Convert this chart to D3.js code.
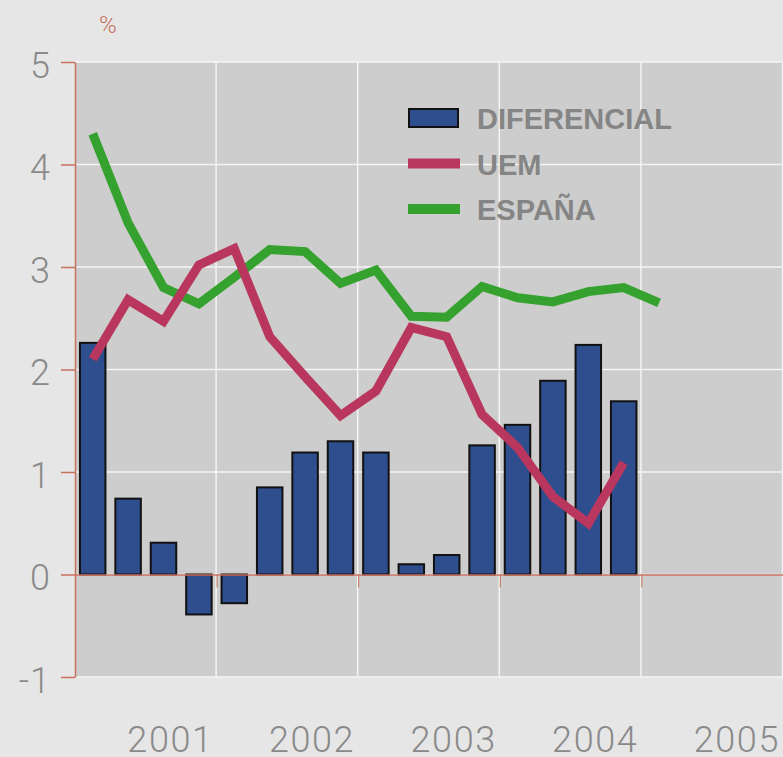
<!DOCTYPE html>
<html>
<head>
<meta charset="utf-8">
<script src="https://cdn.jsdelivr.net/npm/d3@7"></script>
<style>
  body { margin: 0; background: #e6e6e6; }
  svg { display: block; }
</style>
</head>
<body>
<svg id="chart"></svg>
<script>
// quarters from 2001 T1 to 2005 T4 (x axis domain)
const quarters = [];
[2001, 2002, 2003, 2004, 2005].forEach((y) => {
  ["I", "II", "III", "IV"].forEach((q) => quarters.push(`${y} ${q}`));
});

const years = [2001, 2002, 2003, 2004, 2005];
const yTicks = [-1, 0, 1, 2, 3, 4, 5];

// diferencial (bars)
const diferencial = [2.26, 0.74, 0.31, -0.39, -0.28, 0.85, 1.19, 1.30,
                     1.19, 0.10, 0.19, 1.26, 1.46, 1.89, 2.24, 1.69];
// UEM
const uem = [2.10, 2.68, 2.47, 3.02, 3.18, 2.32, 1.93, 1.55,
             1.79, 2.41, 2.32, 1.56, 1.24, 0.76, 0.50, 1.09];
// ESPAÑA
const espana = [4.30, 3.43, 2.80, 2.64, 2.90, 3.17, 3.15, 2.84,
                2.97, 2.52, 2.51, 2.81, 2.70, 2.66, 2.76, 2.80, 2.65];

const width = 783, height = 757;
const plotLeft = 75, plotRight = 783, plotTop = 62, plotBottom = 677;

const blue = "#2f4e8d", red = "#b9375e", green = "#35a22f";
const axisColor = "#c7715f", textGray = "#8a8a8a";
const lightFont = "Roboto, 'Liberation Sans', sans-serif";

const svg = d3.select("#chart")
  .attr("width", width)
  .attr("height", height);

svg.append("rect")
  .attr("width", width).attr("height", height)
  .attr("fill", "#e6e6e6");

const x = d3.scaleBand()
  .domain(quarters)
  .range([plotLeft, plotRight])
  .paddingInner(0.28)
  .paddingOuter(0.14);

const xYear = d3.scaleLinear()
  .domain([2000, 2005])
  .range([plotLeft, plotRight]);

const y = d3.scaleLinear()
  .domain([-1, 5])
  .range([plotBottom, plotTop]);

// plot background
svg.append("rect")
  .attr("x", plotLeft).attr("y", plotTop)
  .attr("width", plotRight - plotLeft).attr("height", plotBottom - plotTop)
  .attr("fill", "#cdcdcd");

// grid
const grid = svg.append("g").attr("class", "grid");
grid.selectAll("line.h")
  .data(yTicks)
  .enter().append("line")
  .attr("class", "h")
  .attr("x1", plotLeft).attr("x2", plotRight)
  .attr("y1", (d) => y(d)).attr("y2", (d) => y(d))
  .attr("stroke", "#f4f4f4")
  .attr("stroke-width", 1.5);

grid.selectAll("line.v")
  .data(years)
  .enter().append("line")
  .attr("class", "v")
  .attr("x1", (d) => xYear(d) - 0.5).attr("x2", (d) => xYear(d) - 0.5)
  .attr("y1", plotTop).attr("y2", plotBottom)
  .attr("stroke", "#f4f4f4")
  .attr("stroke-width", 1.5);

// bars
const barData = diferencial.map((v, i) => ({ q: quarters[i], v: v }));
svg.append("g").attr("class", "bars")
  .selectAll("rect")
  .data(barData)
  .enter().append("rect")
  .attr("x", (d) => x(d.q))
  .attr("width", x.bandwidth())
  .attr("y", (d) => y(Math.max(0, d.v)))
  .attr("height", (d) => Math.abs(y(d.v) - y(0)))
  .attr("fill", blue)
  .attr("stroke", "#111")
  .attr("stroke-width", 2);

// x axis (zero line with year ticks)
const xAxis = svg.append("g")
  .attr("transform", `translate(0,${y(0)})`)
  .call(d3.axisBottom(xYear)
    .tickValues([2000, 2001, 2002, 2003, 2004, 2005])
    .tickSize(13)
    .tickSizeOuter(0)
    .tickFormat(""));
xAxis.select(".domain").attr("stroke", axisColor).attr("stroke-width", 1.5);
xAxis.selectAll(".tick line").attr("stroke", axisColor).attr("stroke-width", 1);

// y axis
const yAxis = svg.append("g")
  .attr("transform", `translate(${plotLeft},0)`)
  .call(d3.axisLeft(y)
    .tickValues(yTicks)
    .tickSize(14)
    .tickSizeOuter(0)
    .tickPadding(10)
    .tickFormat((d) => String(d)));
yAxis.select(".domain").attr("stroke", axisColor).attr("stroke-width", 1.5);
yAxis.selectAll(".tick line").attr("stroke", axisColor).attr("stroke-width", 1.5);
yAxis.selectAll(".tick text")
  .attr("fill", textGray)
  .attr("dy", "0.42em")
  .style("font-family", lightFont)
  .style("font-weight", 300)
  .style("font-size", "36px")
  .style("letter-spacing", "1px");

// year labels
svg.append("g").attr("class", "years")
  .selectAll("text")
  .data(years)
  .enter().append("text")
  .attr("x", (d) => xYear(d) - 3)
  .attr("y", 752)
  .attr("text-anchor", "end")
  .attr("fill", textGray)
  .style("font-family", lightFont)
  .style("font-weight", 300)
  .style("font-size", "36px")
  .style("letter-spacing", "1.6px")
  .text((d) => d);

// % label
svg.append("text")
  .attr("x", 99).attr("y", 33)
  .attr("fill", axisColor)
  .style("font-family", lightFont)
  .style("font-weight", 300)
  .style("font-size", "24px")
  .text("%");

// lines
const line = d3.line()
  .x((d, i) => x(quarters[i]) + x.bandwidth() / 2)
  .y((d) => y(d));

svg.append("path")
  .datum(espana)
  .attr("d", line)
  .attr("fill", "none")
  .attr("stroke", green)
  .attr("stroke-width", 9)
  .attr("stroke-linejoin", "miter");

svg.append("path")
  .datum(uem)
  .attr("d", line)
  .attr("fill", "none")
  .attr("stroke", red)
  .attr("stroke-width", 9)
  .attr("stroke-linejoin", "miter");

// legend
const legendItems = [
  { name: "DIFERENCIAL", type: "bar", color: blue },
  { name: "UEM", type: "line", color: red },
  { name: "ESPAÑA", type: "line", color: green }
];

const legend = svg.append("g")
  .attr("class", "legend")
  .attr("transform", "translate(408,118)");

const item = legend.selectAll("g")
  .data(legendItems)
  .enter().append("g")
  .attr("transform", (d, i) => `translate(0,${i * 45.5})`);

item.filter((d) => d.type === "bar").append("rect")
  .attr("x", 1).attr("y", -9)
  .attr("width", 49).attr("height", 18)
  .attr("fill", (d) => d.color)
  .attr("stroke", "#111")
  .attr("stroke-width", 2);

item.filter((d) => d.type === "line").append("line")
  .attr("x1", 0).attr("x2", 52)
  .attr("y1", 0).attr("y2", 0)
  .attr("stroke", (d) => d.color)
  .attr("stroke-width", 10);

item.append("text")
  .attr("x", 69)
  .attr("y", 11)
  .attr("fill", "#858585")
  .style("font-family", "'Liberation Sans', Arial, sans-serif")
  .style("font-weight", "bold")
  .style("font-size", "29px")
  .text((d) => d.name);
</script>
</body>
</html>
